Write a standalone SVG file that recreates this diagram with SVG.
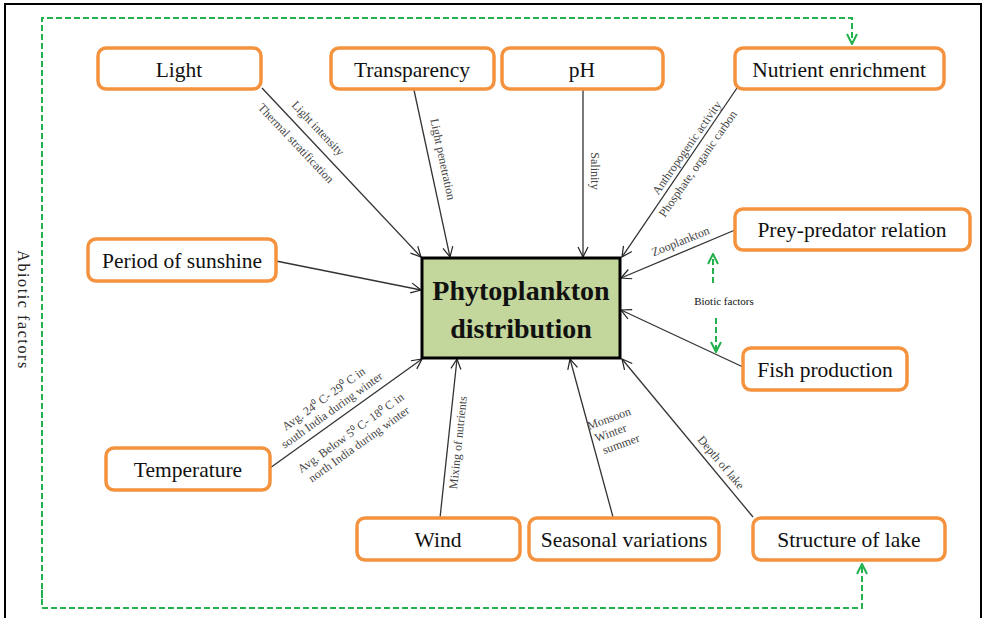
<svg xmlns="http://www.w3.org/2000/svg" width="984" height="618" viewBox="0 0 984 618">
<defs>
<marker id="ah" markerWidth="12" markerHeight="12" refX="11" refY="6" orient="auto" markerUnits="userSpaceOnUse">
<path d="M1,1 L11,6 L1,11" fill="none" stroke="#222" stroke-width="1.2"/>
</marker>
<marker id="gh" markerWidth="12" markerHeight="12" refX="11" refY="6" orient="auto" markerUnits="userSpaceOnUse">
<path d="M1,1 L11,6 L1,11" fill="none" stroke="#22B14C" stroke-width="2"/>
</marker>
<style>
.n{fill:#fff;stroke:#F5923E;stroke-width:3.5}
.nt{font-family:"Liberation Serif",serif;font-size:21.5px;fill:#111;text-anchor:middle}
.c{stroke:#333;stroke-width:1.3;fill:none;marker-end:url(#ah)}
.l{font-family:"Liberation Serif",serif;font-size:12px;fill:#444;text-anchor:middle}
.g{stroke:#22B14C;stroke-width:2;fill:none;stroke-dasharray:6 3}
</style>
</defs>
<rect x="5" y="4" width="976" height="620" fill="#fff" stroke="#000" stroke-width="2"/>

<g id="abiotic" font-family="Liberation Serif, serif">
<path class="g" d="M42,598 L42,18 L852,18 L852,44" marker-end="url(#gh)"/>
<path class="g" d="M42,590 L42,608 L862,608 L862,564" marker-end="url(#gh)"/>
<text transform="translate(18,310) rotate(90)" font-size="16" fill="#222" text-anchor="middle" letter-spacing="1.6">Abiotic factors</text>
</g>

<g id="connectors">
<line class="c" x1="262" y1="88" x2="421" y2="257"/>
<line class="c" x1="414" y1="90" x2="450" y2="257"/>
<line class="c" x1="583" y1="90" x2="583" y2="257"/>
<line class="c" x1="737" y1="88" x2="622" y2="257"/>
<line class="c" x1="735" y1="230" x2="621" y2="278"/>
<line class="c" x1="276" y1="261" x2="421" y2="290"/>
<line class="c" x1="743" y1="367" x2="621" y2="310"/>
<line class="c" x1="270" y1="468" x2="422" y2="359"/>
<line class="c" x1="440" y1="518" x2="457" y2="359"/>
<line class="c" x1="613" y1="517" x2="570" y2="359"/>
<line class="c" x1="753" y1="517" x2="622" y2="359"/>
<path class="g" d="M713,283 L713,254" marker-end="url(#gh)"/>
<path class="g" d="M716,318 L716,352" marker-end="url(#gh)"/>
</g>

<g id="labels">
<text class="l" transform="translate(315,131) rotate(46.7)">Light intensity</text>
<text class="l" transform="translate(293,146) rotate(46.7)">Thermal stratification</text>
<text class="l" transform="translate(439,160) rotate(78)">Light penetration</text>
<text class="l" transform="translate(591,171) rotate(90)">Salinity</text>
<text class="l" transform="translate(690,150) rotate(-55)">Anthropogenic activity</text>
<text class="l" transform="translate(701,166) rotate(-55)">Phosphate, organic carbon</text>
<text class="l" transform="translate(682,245) rotate(-22)">Zooplankton</text>
<text class="l" x="724" y="305" style="font-size:11px;fill:#111">Biotic factors</text>
<text class="l" transform="translate(326,402) rotate(-35.7)"><tspan x="0" y="0">Avg. 24⁰ C- 29⁰ C in</tspan><tspan x="0" y="14">south India during winter</tspan></text>
<text class="l" transform="translate(353,436) rotate(-35.7)"><tspan x="0" y="0">Avg. Below 5⁰ C- 18⁰ C in</tspan><tspan x="0" y="14">north India during winter</tspan></text>
<text class="l" transform="translate(462,443) rotate(-84)">Mixing of nutrients</text>
<text class="l" transform="translate(589,430) rotate(-20)" style="text-anchor:start"><tspan x="0" y="0">Monsoon</tspan><tspan x="3" y="14">Winter</tspan><tspan x="6" y="28">summer</tspan></text>
<text class="l" transform="translate(718,465) rotate(50)">Depth of lake</text>
</g>

<g id="center" font-family="Liberation Serif, serif">
<rect x="422" y="258" width="198" height="100" fill="#C3D69B" stroke="#000" stroke-width="3"/>
<text x="521" y="300" font-size="28" font-weight="bold" text-anchor="middle" fill="#111">Phytoplankton</text>
<text x="521" y="338" font-size="28" font-weight="bold" text-anchor="middle" fill="#111">distribution</text>
</g>

<g id="light"><rect class="n" x="98" y="48" width="163" height="41" rx="8"/><text class="nt" x="179" y="77">Light</text></g>
<g id="transparency"><rect class="n" x="331" y="48" width="163" height="41" rx="8"/><text class="nt" x="412" y="77">Transparency</text></g>
<g id="ph"><rect class="n" x="502" y="48" width="161" height="41" rx="8"/><text class="nt" x="582" y="77">pH</text></g>
<g id="nutrient"><rect class="n" x="735" y="48" width="209" height="41" rx="8"/><text class="nt" x="839" y="77">Nutrient enrichment</text></g>
<g id="sunshine"><rect class="n" x="88" y="239" width="188" height="42" rx="8"/><text class="nt" x="182" y="268">Period of sunshine</text></g>
<g id="prey"><rect class="n" x="735" y="209" width="235" height="41" rx="8"/><text class="nt" x="852" y="237">Prey-predator relation</text></g>
<g id="fish"><rect class="n" x="743" y="348" width="164" height="42" rx="8"/><text class="nt" x="825" y="377">Fish production</text></g>
<g id="temperature"><rect class="n" x="106" y="448" width="164" height="42" rx="8"/><text class="nt" x="188" y="477">Temperature</text></g>
<g id="wind"><rect class="n" x="357" y="518" width="163" height="42" rx="8"/><text class="nt" x="438" y="547">Wind</text></g>
<g id="seasonal"><rect class="n" x="529" y="518" width="190" height="42" rx="8"/><text class="nt" x="624" y="547">Seasonal variations</text></g>
<g id="structure"><rect class="n" x="753" y="518" width="192" height="42" rx="8"/><text class="nt" x="849" y="547">Structure of lake</text></g>
</svg>
